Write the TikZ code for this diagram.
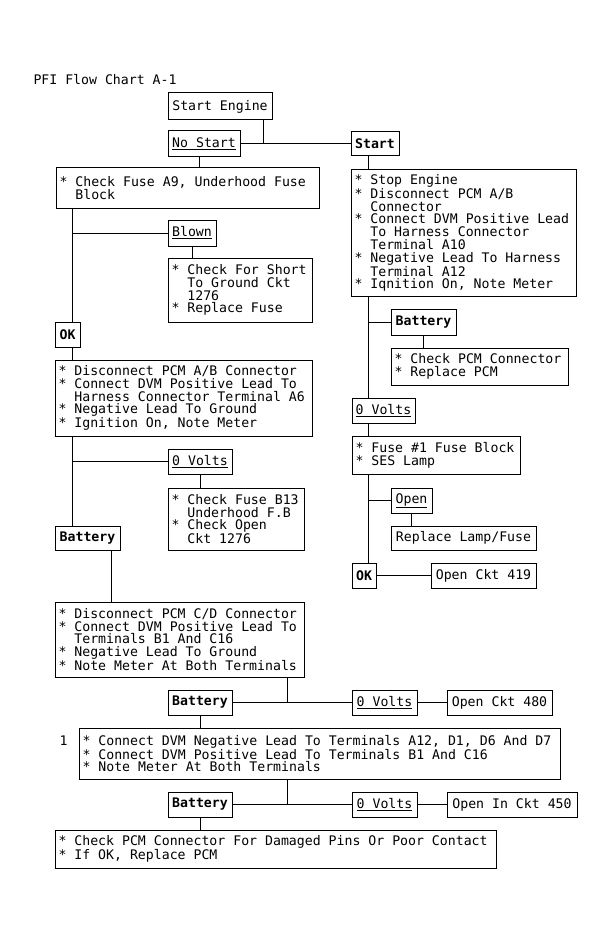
\documentclass[tikz,border=0pt]{standalone}
\usepackage{fontspec}
\setmainfont{DejaVu Sans Mono}
\usepackage{tikz}
\usetikzlibrary{positioning,calc}
\newcommand\ind{\phantom{*\space}}

\begin{document}
\begin{tikzpicture}[x=1pt,y=-1pt,line width=1pt,
  font={\fontsize{13.2}{12.75}\selectfont\frenchspacing},
  box/.style={draw=black,inner xsep=3.5pt,inner ysep=0pt,align=flush left},
  tag/.style={draw=black,inner sep=0pt}]
\useasboundingbox (0,0) rectangle (614,944);
% trunk positions
\coordinate (tL) at (72,0);
\coordinate (tR) at (368,0);
\coordinate (jA) at (263,0);
\coordinate (cA) at (199,0);
\coordinate (cB) at (111,0);
\coordinate (cC) at (287,0);
\node[anchor=base west,inner sep=0pt] (title) at (33,85) {PFI Flow Chart A-1};
\node[anchor=base west,inner sep=0pt] (one) at (59,745) {1};
% left column
\node[tag,minimum width=104,minimum height=27] (engine) at (220,106.5) {Start Engine};
\node[tag,minimum width=72,minimum height=26] (nostart) at (204,144) {\underline{No Start}};
\node[box,text width=256,minimum height=40] (fuseA9) at (187.5,188)
  {* Check Fuse A9, Underhood Fuse\\\ind Block};
\node[tag,minimum width=48,minimum height=26] (blown) at (192,233) {\underline{Blown}};
\node[box,text width=137,minimum height=64] (short) at (240,290)
  {* Check For Short\\\ind To Ground Ckt\\\ind 1276\\{*} Replace Fuse};
\node[tag,minimum width=25,minimum height=25] (okL) at (67.5,334.5) {\textbf{OK}};
\node[box,text width=250,minimum height=76] (discAB) at (183.5,398)
  {* Disconnect PCM A/B Connector\\{*} Connect DVM Positive Lead To\\\ind Harness Connector Terminal A6\\{*} Negative Lead To Ground\\{*} Ignition On, Note Meter};
\node[tag,minimum width=64,minimum height=25] (voltsL) at (200,461.5) {\underline{0 Volts}};
\node[box,text width=129,minimum height=62] (fuseB13) at (236,519)
  {* Check Fuse B13\\\ind Underhood F.B\\{*} Check Open\\\ind Ckt 1276};
\node[tag,minimum width=65,minimum height=24] (battL) at (87.5,538) {\textbf{Battery}};
\node[box,text width=242,minimum height=75] (discCD) at (179.5,639.5)
  {* Disconnect PCM C/D Connector\\{*} Connect DVM Positive Lead To\\\ind Terminals B1 And C16\\{*} Negative Lead To Ground\\{*} Note Meter At Both Terminals};
\node[tag,minimum width=64,minimum height=25] (batt2) at (200,702.5) {\textbf{Battery}};
\node[tag,minimum width=65,minimum height=25] (volts2) at (384.5,702.5) {\underline{0 Volts}};
\node[tag,minimum width=105,minimum height=25] (ckt480) at (499.5,702.5) {Open Ckt 480};
\node[box,text width=474,minimum height=51] (neg) at (319.5,753.5)
  {* Connect DVM Negative Lead To Terminals A12, D1, D6 And D7\\{*} Connect DVM Positive Lead To Terminals B1 And C16\\{*} Note Meter At Both Terminals};
\node[tag,minimum width=64,minimum height=25] (batt3) at (200,804.5) {\textbf{Battery}};
\node[tag,minimum width=65,minimum height=25] (volts3) at (384.5,804.5) {\underline{0 Volts}};
\node[tag,minimum width=130,minimum height=25] (ckt450) at (512,804.5) {Open In Ckt 450};
\node[box,text width=434,minimum height=38] (pcm) at (275.5,849)
  {* Check PCM Connector For Damaged Pins Or Poor Contact\\{*} If OK, Replace PCM};
% right column
\node[tag,minimum width=48,minimum height=24] (start) at (375,144) {\textbf{Start}};
\node[box,text width=218,minimum height=126] (stopeng) at (463.5,233)
  {* Stop Engine\\{*} Disconnect PCM A/B\\\ind Connector\\{*} Connect DVM Positive Lead\\\ind To Harness Connector\\\ind Terminal A10\\{*} Negative Lead To Harness\\\ind Terminal A12\\{*} Iqnition On, Note Meter};
\node[tag,minimum width=65,minimum height=26] (battR) at (423.5,322) {\textbf{Battery}};
\node[box,text width=170,minimum height=37] (checkpcm) at (479.5,366.5)
  {* Check PCM Connector\\{*} Replace PCM};
\node[tag,minimum width=63,minimum height=25] (voltsR) at (383.5,410.5) {\underline{0 Volts}};
\node[box,text width=161,minimum height=38] (fuse1) at (436,455)
  {* Fuse \#1 Fuse Block\\{*} SES Lamp};
\node[tag,minimum width=41,minimum height=25] (open) at (411.5,500.5) {\underline{Open}};
\node[tag,minimum width=145,minimum height=24] (lamp) at (463.5,538) {Replace Lamp/Fuse};
\node[tag,minimum width=24,minimum height=25] (okR) at (364,575.5) {\textbf{OK}};
\node[tag,minimum width=105,minimum height=25] (ckt419) at (483.5,575.5) {Open Ckt 419};
% connectors, left
\draw (nostart) -- (start);
\draw (engine.south -| jA) -- (nostart.east -| jA);
\draw (nostart.south -| cA) -- (fuseA9.north -| cA);
\draw (fuseA9.south -| tL) -- (okL.north -| tL);
\draw (blown.west) -- (blown.west -| tL);
\draw (blown.south) -- (blown.south |- short.north);
\draw (okL.south -| tL) -- (discAB.north -| tL);
\draw (discAB.south -| tL) -- (battL.north -| tL);
\draw (voltsL.west) -- (voltsL.west -| tL);
\draw (voltsL.south) -- (voltsL.south |- fuseB13.north);
\draw (battL.south -| cB) -- (discCD.north -| cB);
\draw (discCD.south -| cC) -- (batt2.east -| cC);
\draw (batt2) -- (volts2);
\draw (volts2) -- (ckt480);
\draw (batt2.south) -- (batt2.south |- neg.north);
\draw (neg.south -| cC) -- (batt3.east -| cC);
\draw (batt3) -- (volts3);
\draw (volts3) -- (ckt450);
\draw (batt3.south) -- (batt3.south |- pcm.north);
% connectors, right
\draw (start.south -| tR) -- (stopeng.north -| tR);
\draw (stopeng.south -| tR) -- (voltsR.north -| tR);
\draw (battR.west) -- (battR.west -| tR);
\draw (battR.south) -- (battR.south |- checkpcm.north);
\draw (voltsR.south -| tR) -- (fuse1.north -| tR);
\draw (fuse1.south -| tR) -- (okR.north -| tR);
\draw (open.west) -- (open.west -| tR);
\draw (open.south) -- (open.south |- lamp.north);
\draw (okR) -- (ckt419);
\end{tikzpicture}
\end{document}
